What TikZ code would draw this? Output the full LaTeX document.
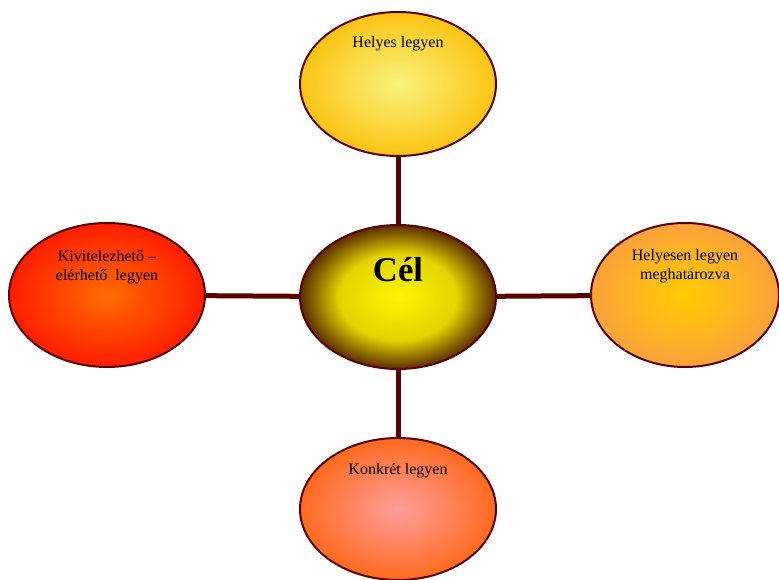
\documentclass[tikz,border=0pt]{standalone}
\usepackage{fontspec}
\setmainfont{Liberation Serif}
\usetikzlibrary{shapes.geometric}

\newlength{\du}
\setlength{\du}{0.75pt}

\definecolor{dialinecolor}{rgb}{0.350000, 0.000000, 0.000000}
\definecolor{topin}{HTML}{F8F27C}
\definecolor{topout}{HTML}{FCC414}
\definecolor{celin}{HTML}{FFF400}
\definecolor{celmid}{HTML}{E2D400}
\definecolor{celout}{HTML}{5A2C00}
\definecolor{leftin}{HTML}{FF6C00}
\definecolor{leftout}{HTML}{FF1E00}
\definecolor{rightin}{HTML}{FFCC00}
\definecolor{rightout}{HTML}{FBA23C}
\definecolor{bottomin}{HTML}{FF9E9C}
\definecolor{bottomout}{HTML}{FF6A1E}

% the ellipse border sits at 25bp of the shading
\pgfdeclareradialshading{topshade}{\pgfpoint{0bp}{0bp}}{color(0bp)=(topin); color(25bp)=(topout); color(50bp)=(topout)}
\pgfdeclareradialshading{celshade}{\pgfpoint{0bp}{0bp}}{color(0bp)=(celin); color(15bp)=(celmid); color(25bp)=(celout); color(50bp)=(celout)}
\pgfdeclareradialshading{leftshade}{\pgfpoint{0bp}{0bp}}{color(0bp)=(leftin); color(25bp)=(leftout); color(50bp)=(leftout)}
\pgfdeclareradialshading{rightshade}{\pgfpoint{0bp}{0bp}}{color(0bp)=(rightin); color(25bp)=(rightout); color(50bp)=(rightout)}
\pgfdeclareradialshading{bottomshade}{\pgfpoint{0bp}{0bp}}{color(0bp)=(bottomin); color(25bp)=(bottomout); color(50bp)=(bottomout)}

\tikzset{
	goal/.style={ellipse, draw=dialinecolor, line width=2\du, inner sep=0pt,
		minimum width=196\du, minimum height=144\du},
	goaltext/.style={font=\fontsize{12}{14.5}\selectfont, align=center},
	spoke/.style={draw=dialinecolor, line width=5\du}
}

\begin{document}
\begin{tikzpicture}
	\useasboundingbox (0\du,0\du) rectangle (779\du,579\du);
	% ellipses
	\node[goal, shading=topshade,
		label={[goaltext, yshift=40\du]center:Helyes legyen}] (helyes) at (398\du,495\du) {};
	\node[goal, shading=celshade,
		label={[font=\fontsize{26}{30}\selectfont\bfseries, yshift=27\du]center:Cél}] (cel) at (398\du,282\du) {};
	\node[goal, shading=leftshade,
		label={[goaltext, yshift=28\du]center:Kivitelezhető –\\elérhető\ \ legyen}] (kivitel) at (107\du,284\du) {};
	\node[goal, shading=rightshade, minimum width=188\du,
		label={[goaltext, yshift=29\du]center:Helyesen legyen\\meghatározva}] (meghat) at (685\du,284\du) {};
	\node[goal, shading=bottomshade, minimum height=142\du,
		label={[goaltext, yshift=38\du]center:Konkrét legyen}] (konkret) at (398\du,70\du) {};
	% spokes
	\draw[spoke] (helyes) -- (cel);
	\draw[spoke] (kivitel) -- (cel);
	\draw[spoke] (cel) -- (meghat);
	\draw[spoke] (cel) -- (konkret);
\end{tikzpicture}
\end{document}
